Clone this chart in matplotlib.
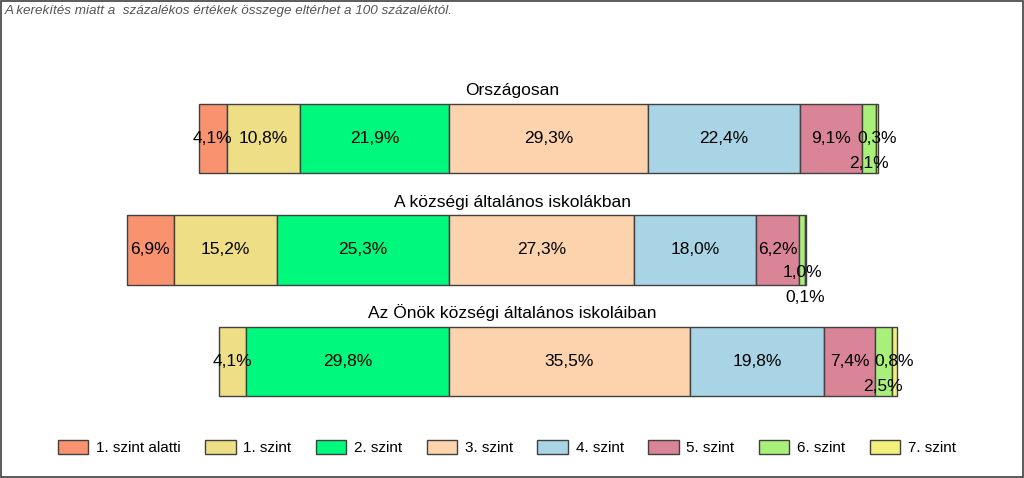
import numpy as np
import matplotlib.pyplot as plt
from matplotlib.patches import Patch, Rectangle

plt.rcParams['font.family'] = ['Liberation Sans', 'DejaVu Sans']

groups = ['Országosan', 'A községi általános iskolákban', 'Az Önök községi általános iskoláiban']
levels = ['1. szint alatti', '1. szint', '2. szint', '3. szint', '4. szint', '5. szint', '6. szint', '7. szint']
colors = ['#F9926F', '#EEDF86', '#00F97C', '#FDD3AE', '#A8D4E5', '#DA8497', '#A8F07A', '#F2F07C']

orszagos = [4.1, 10.8, 21.9, 29.3, 22.4, 9.1, 2.1, 0.3]
kozsegi = [6.9, 15.2, 25.3, 27.3, 18.0, 6.2, 1.0, 0.1]
onok = [0.0, 4.1, 29.8, 35.5, 19.8, 7.4, 2.5, 0.8]

# label vertical offsets (points) for the small segments that Excel pushed aside
label_shift = [
    {6: -18},
    {6: -16, 7: -34},
    {6: -18},
]

data = np.array([orszagos, kozsegi, onok])
n_below = 3  # levels left of the zero line

fig = plt.figure(figsize=(10.24, 4.78), dpi=100)
ax = fig.add_axes([0, 0, 1, 1])

bar_h = 0.62
for i, row in enumerate(data):
    left = -row[:n_below].sum()
    for j, v in enumerate(row):
        if v > 0:
            ax.barh(i, v, left=left, height=bar_h, color=colors[j],
                    edgecolor='#404040', linewidth=1)
            txt = ('%.1f%%' % v).replace('.', ',')
            dy = label_shift[i].get(j, 0)
            ax.annotate(txt, (left + v / 2, i), xytext=(0, dy),
                        textcoords='offset points', ha='center', va='center',
                        fontsize=12.5, color='black')
        left += v
    ax.text(0.5, i - bar_h / 2 - 0.05, groups[i], transform=ax.get_yaxis_transform(),
            ha='center', va='bottom', fontsize=12.5)

ax.set_xlim(-66.1, 84.7)
ax.set_ylim(3.045, -1.242)
ax.axis('off')

handles = [Patch(facecolor=c, edgecolor='#404040', linewidth=1) for c in colors]
fig.legend(handles, levels, loc='center', bbox_to_anchor=(0.495, 0.063), ncol=8,
           frameon=False, fontsize=11, handlelength=2.0, handleheight=0.95,
           handletextpad=0.5, columnspacing=1.6)

fig.text(0.005, 0.978, 'A kerekítés miatt a  százalékos értékek összege eltérhet a 100 százaléktól.',
         style='italic', color='#555555', fontsize=9.7, ha='left', va='center')

fig.add_artist(Rectangle((0.001, 0.002), 0.998, 0.996, transform=fig.transFigure,
                         fill=False, edgecolor='#404040', linewidth=1.2))

plt.savefig('out.png', dpi=100)
